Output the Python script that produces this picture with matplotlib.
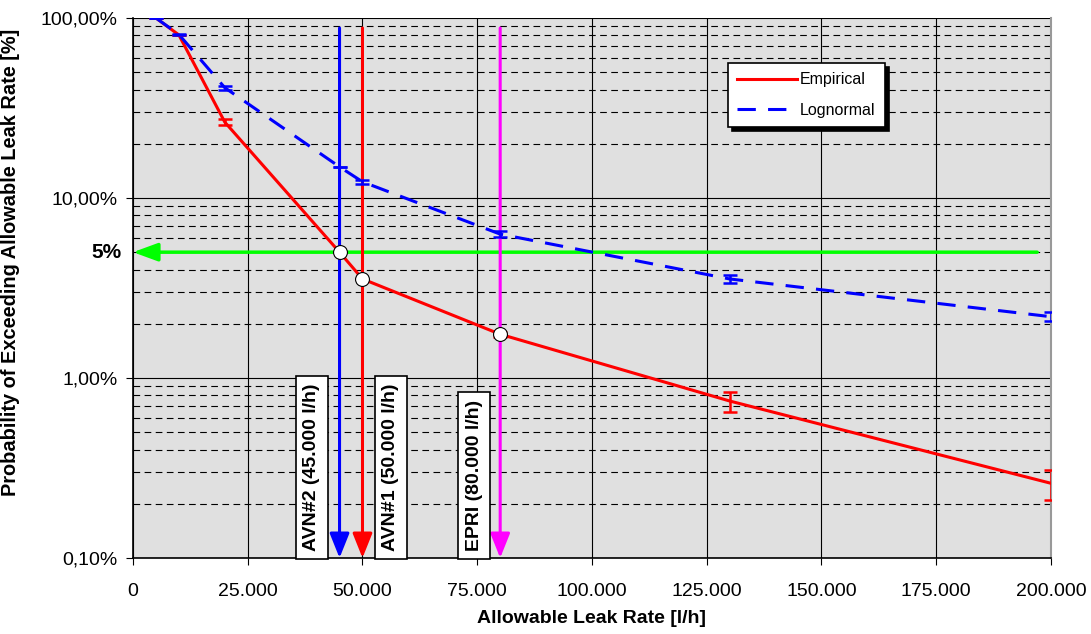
import matplotlib.pyplot as plt
from matplotlib.ticker import FixedLocator, FuncFormatter, NullFormatter
import numpy as np

plt.rcParams['font.family'] = ['Liberation Sans', 'DejaVu Sans']

# leak rate [l/h]
rate = [5000, 10000, 20000, 45000, 50000, 80000, 130000, 200000]
# probability of exceeding [%]
empirical = [100, 80.5, 26.4, 5.0, 3.55, 1.75, 0.745, 0.26]
lognormal = [100, 81, 41, 14.9, 12.3, 6.3, 3.55, 2.19]

# error bar half-ranges (low, high) in %
emp_err_lo = [0, 0, 0.9, 0, 0, 0.06, 0.095, 0.05]
emp_err_hi = [0, 0, 0.9, 0, 0, 0.06, 0.09, 0.048]
log_err_lo = [0, 0.8, 1.0, 0, 0.35, 0.25, 0.2, 0.13]
log_err_hi = [0, 0.8, 1.0, 0, 0.35, 0.25, 0.2, 0.13]

# reference limits
limits = [45000, 50000, 80000]
limit_labels = ["AVN#2 (45.000 l/h)", "AVN#1 (50.000 l/h)", "EPRI (80.000 l/h)"]
limit_colors = ["#0000FF", "#FF0000", "#FF00FF"]
crossings = [5.0, 3.55, 1.75]

fig = plt.figure(figsize=(10.91, 6.34), dpi=100)
ax = fig.add_axes([0.1219, 0.1199, 0.8414, 0.8517])
ax.set_facecolor("#E0E0E0")
ax.set_yscale("log")
ax.set_xlim(0, 200000)
ax.set_ylim(0.1, 100)

# grid
ax.xaxis.set_major_locator(FixedLocator(np.arange(0, 200001, 25000)))
ax.yaxis.set_major_locator(FixedLocator([0.1, 1, 10, 100]))
minors = [m * d for d in [0.1, 1, 10] for m in range(2, 10)]
ax.yaxis.set_minor_locator(FixedLocator(minors))
ax.yaxis.set_minor_formatter(NullFormatter())
ax.grid(True, which="major", axis="both", color="black", lw=0.8)
ax.grid(True, which="minor", axis="y", color="black", lw=0.8, ls=(0, (6, 4)))
ax.set_axisbelow(True)

ax.xaxis.set_major_formatter(FuncFormatter(lambda v, p: "0" if v == 0 else f"{int(v):,}".replace(",", ".")))
ax.yaxis.set_major_formatter(FuncFormatter(lambda v, p: f"{v:.2f}".replace(".", ",") + "%"))
ax.tick_params(axis="both", which="major", labelsize=14, direction="out", length=5, color="black")
ax.tick_params(axis="y", which="minor", length=0)
ax.tick_params(axis="x", pad=13)
ax.tick_params(axis="y", pad=6)
ax.spines["top"].set_visible(False)
ax.spines["right"].set_color("#999999")
ax.spines["right"].set_linewidth(1.5)
ax.spines["left"].set_linewidth(1.2)
ax.spines["bottom"].set_linewidth(1.2)

# green 5% arrow
ax.annotate("", xy=(0, 5), xytext=(197000, 5),
            arrowprops=dict(arrowstyle="-|>,head_length=1.5,head_width=0.55", color="#00FF00", lw=2.5,
                            shrinkA=0, shrinkB=0),
            zorder=3)
ax.text(-2500, 5, "5%", ha="right", va="center", fontsize=15, fontweight="bold")

# vertical arrows
for xv, c in zip(limits, limit_colors):
    ax.annotate("", xy=(xv, 0.1), xytext=(xv, 88),
                arrowprops=dict(arrowstyle="-|>,head_length=1.5,head_width=0.6", color=c, lw=2.2,
                                shrinkA=0, shrinkB=0),
                zorder=3)

# series
ax.plot(rate, empirical, color="#FF0000", lw=2.2, zorder=4, label="Empirical")
ax.plot(rate, lognormal, color="#0000FF", lw=2.2, ls=(0, (6, 4)), zorder=4, label="Lognormal")
ax.errorbar(rate, empirical, yerr=[emp_err_lo, emp_err_hi], fmt="none", ecolor="#FF0000",
            elinewidth=1.8, capsize=5, capthick=1.8, zorder=4)
ax.errorbar(rate, lognormal, yerr=[log_err_lo, log_err_hi], fmt="none", ecolor="#0000FF",
            elinewidth=1.8, capsize=5, capthick=1.8, zorder=4)

# crossing markers
ax.plot(limits, crossings, "o", ms=10, mfc="white", mec="black", mew=0.8, zorder=5)

# label boxes
label_x = [39000, 56200, 74300]
for lx, t in zip(label_x, limit_labels):
    ax.text(lx, 0.109, t, rotation=90, ha="center", va="bottom", fontsize=14, fontweight="bold",
            bbox=dict(boxstyle="square,pad=0.4", fc="white", ec="black", lw=1.2), zorder=6)

# legend
leg = ax.legend(loc="upper left", bbox_to_anchor=(0.648, 0.917), borderaxespad=0, fontsize=11.5,
                frameon=True, fancybox=False, shadow={"color": "black", "alpha": 1, "ox": 3, "oy": -3},
                handlelength=3.7, borderpad=0.6, labelspacing=0.95, handletextpad=0.2)
leg.get_frame().set_edgecolor("black")
leg.get_frame().set_linewidth(1.2)
leg.get_frame().set_facecolor("white")
leg.get_frame().set_alpha(1)

ax.set_xlabel("Allowable Leak Rate [l/h]", fontsize=14, fontweight="bold")
ax.xaxis.set_label_coords(0.5, -0.096)
ax.set_ylabel("Probability of Exceeding Allowable Leak Rate [%]", fontsize=14.4, fontweight="bold")
ax.yaxis.set_label_coords(-0.123, 0.548)

fig.savefig("out.png", dpi=100)
